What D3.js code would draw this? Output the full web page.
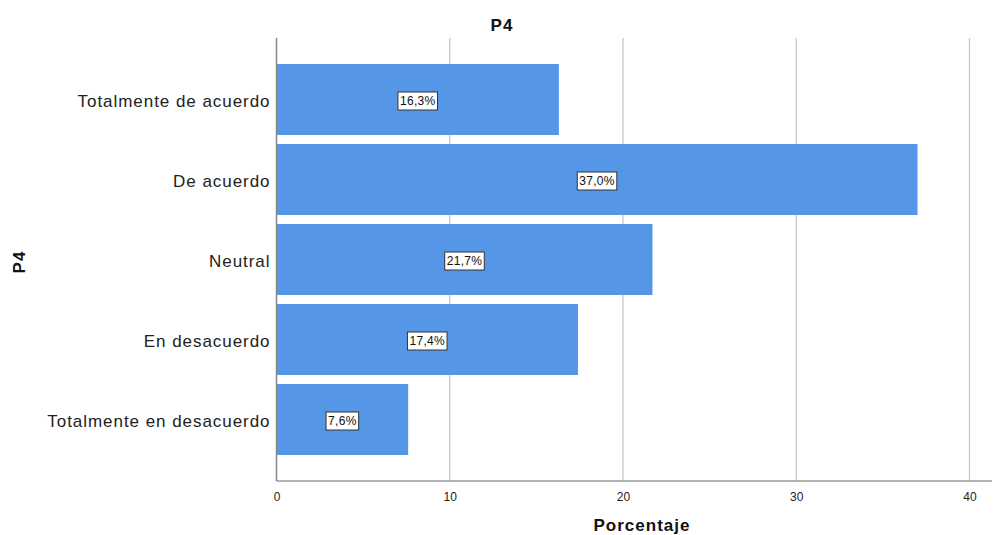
<!DOCTYPE html>
<html><head><meta charset="utf-8">
<script src="https://cdn.jsdelivr.net/npm/d3@7"></script>
<style>body{margin:0;background:#fff}svg{display:block;font-family:Arial,"Liberation Sans",sans-serif}</style>
</head><body><svg id="c" width="993" height="535"></svg>
<script>
const categories = ["Totalmente de acuerdo","De acuerdo","Neutral","En desacuerdo","Totalmente en desacuerdo"];
const values = [16.3, 37.0, 21.7, 17.4, 7.6];
const xTicks = [0, 10, 20, 30, 40];
const title = "P4", xTitle = "Porcentaje", yTitle = "P4";

const svg = d3.select("#c");
const x = d3.scaleLinear().domain([0, 40]).range([276.5, 969.5]);
const y = d3.scaleBand().domain(categories).range([38, 481]).paddingInner(0.1125).paddingOuter(0.325);

// grid
svg.append("g").selectAll("line").data(xTicks.filter(d => d > 0)).join("line")
  .attr("x1", d => x(d)).attr("x2", d => x(d)).attr("y1", 38).attr("y2", 481)
  .attr("stroke", "#c8c8c8").attr("stroke-width", 1.3);

// bars
svg.append("g").selectAll("rect").data(values).join("rect")
  .attr("x", x(0)).attr("y", (d, i) => y(categories[i]))
  .attr("width", d => x(d) - x(0)).attr("height", y.bandwidth())
  .attr("fill", "#5596e6");

// axes lines
svg.append("line").attr("x1", x(0)).attr("x2", 992).attr("y1", 481).attr("y2", 481).attr("stroke", "#999").attr("stroke-width", 1.5);
svg.append("line").attr("x1", x(0)).attr("x2", x(0)).attr("y1", 38).attr("y2", 481).attr("stroke", "#888").attr("stroke-width", 1.5);

// x tick labels
const xa = d3.axisBottom(x).tickValues(xTicks).tickSize(0).tickPadding(11).tickFormat(d3.format("d"));
const gx = svg.append("g").attr("transform", "translate(0,481)").call(xa);
gx.select(".domain").remove();
gx.selectAll("text").attr("font-size", 12).attr("fill", "#222").attr("font-family", "Arial,'Liberation Sans',sans-serif");

// y labels
const ya = d3.axisLeft(y).tickSize(0).tickPadding(6);
const gy = svg.append("g").attr("transform", `translate(${x(0)},0)`).call(ya);
gy.select(".domain").remove();
gy.selectAll("text").attr("font-size", 17).attr("letter-spacing", "0.95px").attr("dy", "0.45em")
  .attr("fill", "#222").attr("font-family", "Arial,'Liberation Sans',sans-serif");

// value labels
const fmt = v => v.toFixed(1).replace(".", ",") + "%";
const lg = svg.append("g").selectAll("g").data(values).join("g")
  .attr("transform", (d, i) => `translate(${(x(0) + x(d)) / 2},${y(categories[i]) + y.bandwidth() / 2 + 1.5})`);
lg.append("text").attr("text-anchor", "middle").attr("dy", "0.36em").attr("font-size", 12).attr("letter-spacing", "0.3px").attr("fill", "#111")
  .text(d => fmt(d));
lg.each(function() {
  const g = d3.select(this), t = g.select("text").node().getBBox();
  g.insert("rect", "text").attr("x", t.x - 2).attr("y", -9).attr("width", t.width + 4).attr("height", 18)
    .attr("fill", "#fff").attr("stroke", "#333").attr("stroke-width", 1);
});

// titles
svg.append("text").attr("x", 502).attr("y", 31).attr("text-anchor", "middle").attr("font-size", 17).attr("font-weight", "bold").attr("letter-spacing", "1px").attr("fill", "#111").text(title);
svg.append("text").attr("x", 642).attr("y", 531).attr("text-anchor", "middle").attr("font-size", 17).attr("font-weight", "bold").attr("letter-spacing", "1px").attr("fill", "#111").text(xTitle);
svg.append("text").attr("transform", "translate(25,262) rotate(-90)").attr("text-anchor", "middle").attr("font-size", 17).attr("font-weight", "bold").attr("letter-spacing", "1px").attr("fill", "#111").text(yTitle);
</script></body></html>
